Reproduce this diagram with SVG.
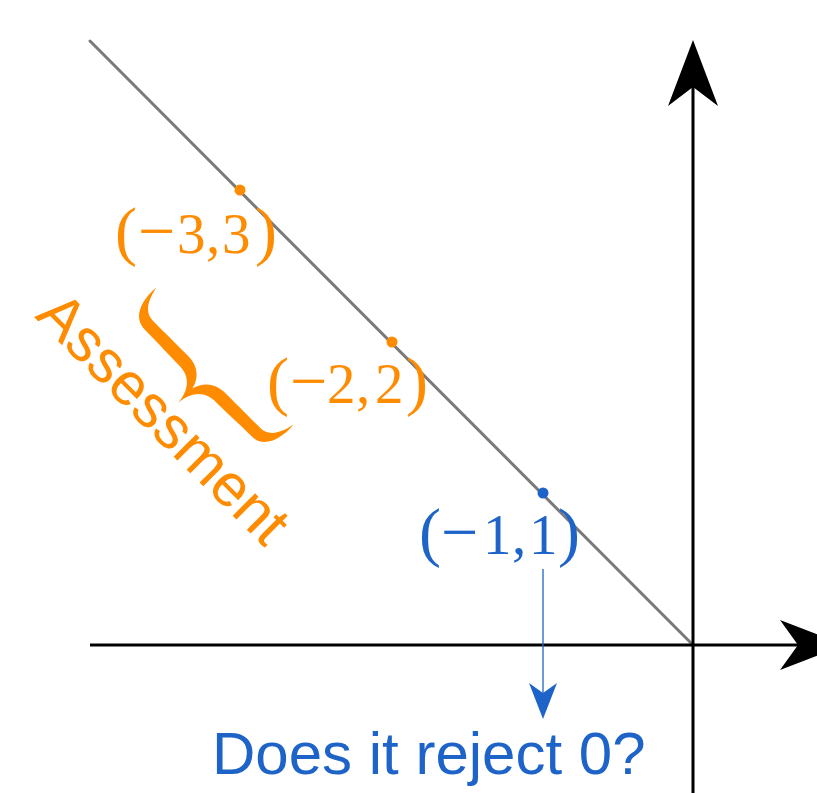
<svg xmlns="http://www.w3.org/2000/svg" width="817" height="793" viewBox="0 0 817 793">
<style>
.axis{stroke:#000;stroke-width:3;fill:none}
.head{fill:#000;stroke:none}
.grey{stroke:#7a7a7a;stroke-width:3;fill:none;stroke-linecap:round}
.math{font-family:"Liberation Serif","Times New Roman",serif;font-size:57px}
.big{font-size:66px}
.orange{fill:#FF8C00}
.blue{fill:#1E64C8}
.sans{font-family:"Liberation Sans",Arial,sans-serif;font-size:60px}
</style>
<rect width="817" height="793" fill="#fff"/>
<g id="connectors">
  <line class="grey" x1="90" y1="41" x2="693" y2="645"/>
  <line class="axis" x1="90" y1="645" x2="800" y2="645"/>
  <path class="head" d="M845,645 L780,620 L798,645 L780,670 Z"/>
  <line class="axis" x1="693" y1="793" x2="693" y2="85"/>
  <path class="head" d="M693,40 L668,106 L693,87 L718,106 Z"/>
  <line x1="543" y1="569" x2="543" y2="696" stroke="#1E64C8" stroke-width="1.3"/>
  <path d="M543,719 L529,683 L543,693 L557,683 Z" fill="#1E64C8"/>
</g>
<g id="p3">
  <circle cx="240" cy="190" r="5.5" class="orange"/>
  <text class="math orange" y="253"><tspan x="115" class="big">(</tspan><tspan x="138" class="big">−</tspan><tspan x="177">3</tspan><tspan x="206">,</tspan><tspan x="222">3</tspan><tspan x="255" class="big">)</tspan></text>
</g>
<g id="p2">
  <circle cx="392" cy="342" r="5.5" class="orange"/>
  <text class="math orange" y="403"><tspan x="267" class="big">(</tspan><tspan x="290" class="big">−</tspan><tspan x="327">2</tspan><tspan x="356">,</tspan><tspan x="375">2</tspan><tspan x="406" class="big">)</tspan></text>
</g>
<g id="p1">
  <circle cx="543" cy="493" r="5.5" class="blue"/>
  <text class="math blue" y="554"><tspan x="419" class="big">(</tspan><tspan x="441" class="big">−</tspan><tspan x="483">1</tspan><tspan x="512">,</tspan><tspan x="529">1</tspan><tspan x="558" class="big">)</tspan></text>
</g>
<g id="brace">
  <path class="orange" transform="translate(225,356) rotate(135)" d="M0,-97 C20,-99 38,-92 38,-76 C38,-55 39,-40 39,-26 C39,-12 47,-2 66,0 C47,2 39,12 39,26 C39,40 38,55 38,76 C38,92 20,99 0,97 C15,94 26,88 26,76 C26,55 26,40 26,26 C26,12 34,3 46,0 C34,-3 26,-12 26,-26 C26,-40 26,-55 26,-76 C26,-88 15,-94 0,-97 Z"/>
</g>
<g id="assessment">
  <text class="sans orange" transform="translate(34,317) rotate(45)" x="0" y="0">Assessment</text>
</g>
<g id="question">
  <text class="sans blue" x="212" y="774">Does it reject 0?</text>
</g>
</svg>
